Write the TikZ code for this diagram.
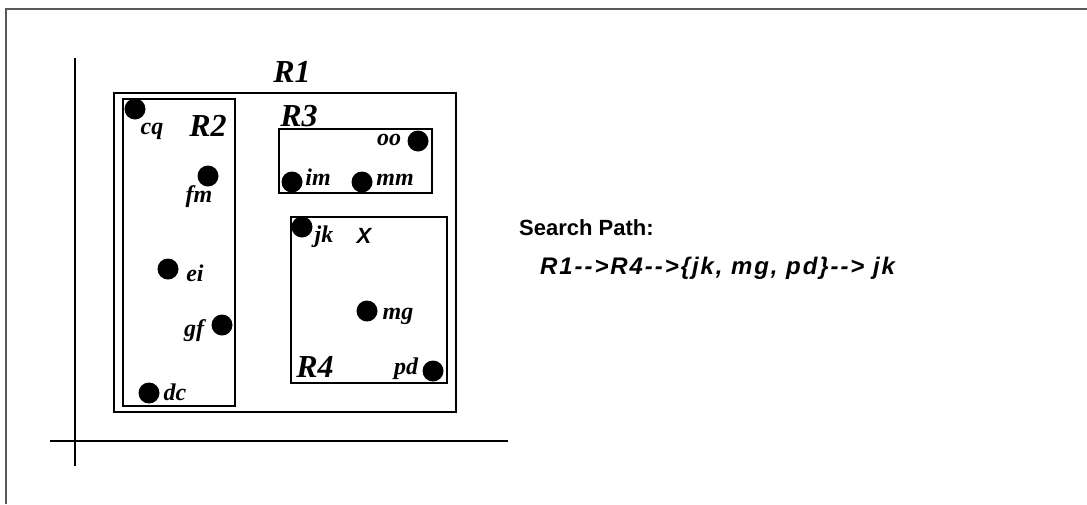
\documentclass[tikz,border=0pt]{standalone}
\usepackage{fontspec}
\setmainfont{Liberation Serif}
\setsansfont{Liberation Sans}
\newfontfamily\spacedsans[LetterSpace=8]{Liberation Sans}
\begin{document}
\begin{tikzpicture}[x=1pt,y=-1pt,
  box/.style={draw=black,line width=2pt},
  axis/.style={draw=black,line width=2.5pt},
  pt/.style={circle,fill=black,minimum size=21pt,inner sep=0pt},
  lbl/.style={inner sep=0pt,font=\fontsize{24}{26}\selectfont\bfseries\itshape},
  rlbl/.style={inner sep=0pt,font=\fontsize{32}{34}\selectfont\bfseries\itshape},
  sans/.style={inner sep=0pt,font=\fontsize{22}{24}\selectfont\sffamily\bfseries},
  frame/.style={draw=black!65,line width=2pt}]
\useasboundingbox (0,0) rectangle (1087,504);
% frame
\draw[frame] (5.5,504) -- (5.5,8.5) -- (1087,8.5);
% axes
\coordinate (vt) at (75,58);
\coordinate (vb) at (75,466);
\coordinate (hl) at (50,441);
\coordinate (hr) at (508,441);
\draw[axis] (vt) -- (vb);
\draw[axis] (hl) -- (hr);
% boxes
\draw[box] (114,93) rectangle (456,412);
\draw[box] (123,99) rectangle (235,406);
\draw[box] (279,129) rectangle (432,193);
\draw[box] (291,217) rectangle (447,383);
% region labels
\node[rlbl] (r1) at (292,72) {R1};
\node[rlbl] (r2) at (208,126) {R2};
\node[rlbl] (r3) at (299,116) {R3};
\node[rlbl] (r4) at (315,367) {R4};
% points
\node[pt] (cq) at (135,109) {};
\node[pt] (fm) at (208,176) {};
\node[pt] (oo) at (418,141) {};
\node[pt] (im) at (292,182) {};
\node[pt] (mm) at (362,182) {};
\node[pt] (jk) at (302,227) {};
\node[pt] (ei) at (168,269) {};
\node[pt] (gf) at (222,325) {};
\node[pt] (dc) at (149,393) {};
\node[pt] (mg) at (367,311) {};
\node[pt] (pd) at (433,371) {};
% point labels
\node[lbl] (lcq) at (152,131) {cq};
\node[lbl] (lfm) at (199,197) {fm};
\node[lbl] (loo) at (389,140) {oo};
\node[lbl] (lim) at (318,177) {im};
\node[lbl] (lmm) at (395,180) {mm};
\node[lbl] (ljk) at (324,237) {jk};
\node[lbl] (lei) at (195,273) {ei};
\node[lbl] (lgf) at (194,331) {gf};
\node[lbl] (ldc) at (175,392) {dc};
\node[lbl] (lmg) at (398,316) {mg};
\node[lbl] (lpd) at (406,369) {pd};
\node[inner sep=0pt,font=\fontsize{22}{24}\selectfont\sffamily\bfseries\itshape] (x) at (364,236) {X};
% search path
\node[sans,anchor=west] (sp) at (519,228) {Search Path:};
\node[sans,anchor=west,font=\fontsize{24}{26}\selectfont\spacedsans\bfseries\itshape] (path) at (540,268) {R1-{}->R4-{}->\{jk, mg, pd\}-{}-> jk};
\end{tikzpicture}
\end{document}
